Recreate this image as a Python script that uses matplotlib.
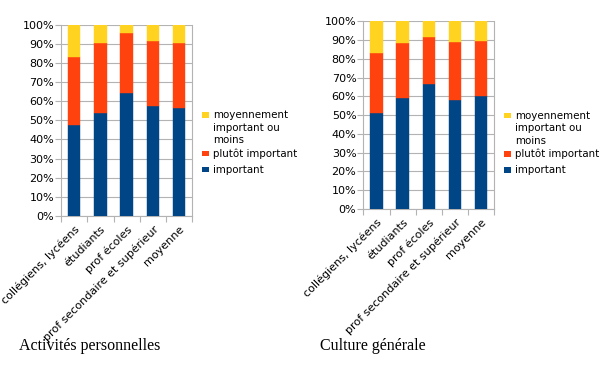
import matplotlib
matplotlib.use("Agg")
import matplotlib.pyplot as plt
from matplotlib.patches import Rectangle
import numpy as np

categories = ["collégiens, lycéens", "étudiants", "prof écoles",
              "prof secondaire et supérieur", "moyenne"]
series_names = ["important", "plutôt important", "moyennement\nimportant ou\nmoins"]
colors = ["#004586", "#ff420e", "#ffd320"]

# Activités personnelles (fractions)
act_important = [0.474, 0.538, 0.641, 0.575, 0.566]
act_plutot = [0.355, 0.368, 0.314, 0.341, 0.338]
act_moyen = [0.171, 0.094, 0.045, 0.084, 0.096]

# Culture générale (fractions)
cult_important = [0.512, 0.593, 0.668, 0.581, 0.602]
cult_plutot = [0.317, 0.293, 0.250, 0.311, 0.295]
cult_moyen = [0.171, 0.114, 0.082, 0.108, 0.103]

titles = ["Activités personnelles", "Culture générale"]
yticks = np.arange(0, 1.01, 0.1)
ytick_labels = [f"{int(round(v*100))}%" for v in yticks]

fig = plt.figure(figsize=(6.05, 3.67), dpi=100)
W, H = 605, 367

def px_axes(x0, y0, x1, y1):
    return fig.add_axes([x0 / W, 1 - y1 / H, (x1 - x0) / W, (y1 - y0) / H])

def fx(px):
    return px / W

def fy(py):
    return 1 - py / H

axes_boxes = [(61, 24.7, 192.3, 216), (363.3, 21.3, 494.3, 209)]
datasets = [(act_important, act_plutot, act_moyen),
            (cult_important, cult_plutot, cult_moyen)]
legend_x = [202, 504]
# baseline of first text line for each series (important, plutôt, moyennement)
legend_base = [[172.7, 156.7, 118.3], [173, 157, 119]]
title_pos = [(19, 350), (320, 350)]

grid_c = "#b3b3b3"
for i, (box, data, title, tpos) in enumerate(zip(axes_boxes, datasets, titles, title_pos)):
    ax = px_axes(*box)
    x = np.arange(len(categories))
    bottom = np.zeros(len(categories))
    for vals, c in zip(data, colors):
        ax.bar(x, vals, width=0.48, bottom=bottom, color=c, zorder=3,
               edgecolor=c, linewidth=0.3)
        bottom += np.array(vals)
    ax.set_xlim(-0.5, len(categories) - 0.5)
    ax.set_ylim(0, 1)
    ax.set_yticks(yticks)
    ax.set_yticklabels(ytick_labels, fontsize=8, family="DejaVu Sans")
    ax.yaxis.grid(True, color=grid_c, linewidth=0.8, zorder=0)
    ax.tick_params(axis="y", length=4, color=grid_c, pad=1)
    ax.set_xticks(np.arange(-0.5, len(categories), 1.0))
    ax.set_xticklabels([])
    ax.set_xticks(x, minor=True)
    ax.set_xticklabels(categories, minor=True, rotation=45, ha="right",
                       rotation_mode="anchor", fontsize=8, family="DejaVu Sans")
    ax.tick_params(axis="x", which="major", length=4, color=grid_c)
    ax.tick_params(axis="x", which="minor", length=0, pad=6)
    for s in ax.spines.values():
        s.set_color(grid_c)
        s.set_linewidth(0.8)
    ax.spines["top"].set_visible(False)

    # legend (manual, marker aligned with the first text line)
    lx = legend_x[i]
    for name, c, base in zip(series_names, colors, legend_base[i]):
        fig.patches.append(Rectangle((fx(lx), fy(base - 0.5)), 7 / W, 5.5 / H,
                                     transform=fig.transFigure, facecolor=c,
                                     edgecolor="none"))
        for k, line in enumerate(name.split("\n")):
            fig.text(fx(lx + 11), fy(base + 12.4 * k), line, fontsize=7.4,
                     family="DejaVu Sans", ha="left", va="baseline")
    fig.text(fx(tpos[0]), fy(tpos[1]), title, fontsize=11.5,
             family="Liberation Serif", ha="left", va="baseline")

fig.savefig("out.png", dpi=100)
